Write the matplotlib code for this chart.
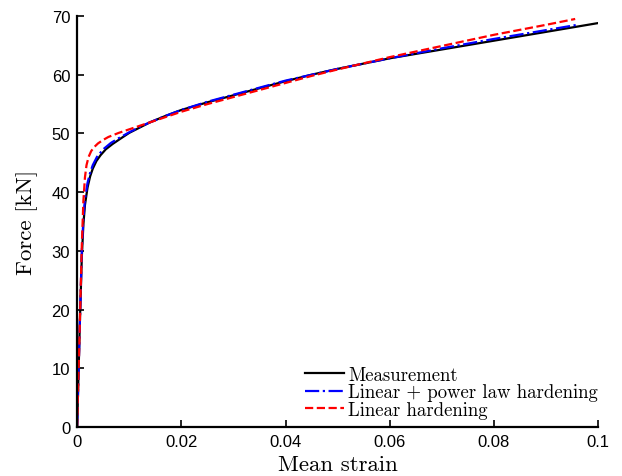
import matplotlib
matplotlib.use("Agg")
import matplotlib.pyplot as plt

# Measurement
meas_x = [0, 0.0005, 0.0009, 0.0012, 0.0015, 0.002, 0.0025, 0.003, 0.0037, 0.0045,
          0.0055, 0.0068, 0.0083, 0.01, 0.012, 0.014, 0.017, 0.02, 0.025, 0.03,
          0.035, 0.04, 0.045, 0.05, 0.055, 0.06, 0.07, 0.08, 0.09, 0.1]
meas_y = [0, 17, 29, 34.5, 37.8, 40.8, 42.7, 44.0, 45.3, 46.3,
          47.3, 48.2, 49.1, 50.1, 51.0, 51.9, 53.0, 54.0, 55.3, 56.5,
          57.7, 58.9, 60.0, 61.0, 61.9, 62.8, 64.3, 65.8, 67.3, 68.8]

# Linear + power law hardening
pow_x = [0, 0.0005, 0.0009, 0.0012, 0.0015, 0.002, 0.0025, 0.003, 0.0038, 0.005,
         0.0065, 0.008, 0.01, 0.012, 0.014, 0.017, 0.02, 0.025, 0.03, 0.035,
         0.04, 0.045, 0.05, 0.06, 0.07, 0.08, 0.09, 0.096]
pow_y = [0, 17, 30, 35.5, 38.8, 41.6, 43.3, 44.6, 46.0, 47.3,
         48.4, 49.2, 50.2, 51.1, 51.9, 53.0, 54.0, 55.4, 56.6, 57.8,
         59.0, 60.0, 61.0, 62.8, 64.5, 66.1, 67.6, 68.5]

# Linear hardening
lin_x = [0, 0.0005, 0.0009, 0.0012, 0.0015, 0.0018, 0.0022, 0.0027, 0.0033, 0.004,
         0.005, 0.006, 0.008, 0.01, 0.012, 0.014, 0.017, 0.02, 0.025, 0.03,
         0.035, 0.04, 0.045, 0.05, 0.06, 0.07, 0.08, 0.09, 0.0956]
lin_y = [0, 17, 31, 38.5, 42.5, 44.6, 46.0, 47.0, 47.7, 48.3,
         48.9, 49.4, 50.1, 50.7, 51.3, 51.9, 52.8, 53.7, 55.0, 56.2,
         57.4, 58.6, 59.8, 60.9, 63.0, 64.9, 66.8, 68.5, 69.5]

xticks = [0, 0.02, 0.04, 0.06, 0.08, 0.1]
xticklabels = ["0", "0.02", "0.04", "0.06", "0.08", "0.1"]
yticks = [0, 10, 20, 30, 40, 50, 60, 70]

fig = plt.figure(figsize=(6.22, 4.77), dpi=100)
ax = fig.add_axes([0.124, 0.1027, 0.8376, 0.8616])

ax.plot(meas_x, meas_y, color="black", lw=1.6, label="Measurement")
ax.plot(pow_x, pow_y, color="blue", lw=1.6, ls="-.", label="Linear + power law hardening")
ax.plot(lin_x, lin_y, color="red", lw=1.6, ls="--", label="Linear hardening")

ax.set_xlim(0, 0.1)
ax.set_ylim(0, 70)
ax.set_xticks(xticks)
ax.set_xticklabels(xticklabels)
ax.set_yticks(yticks)
for lab in ax.get_xticklabels() + ax.get_yticklabels():
    lab.set_family("Liberation Sans")
    lab.set_fontsize(12)
ax.tick_params(direction="in", length=5, width=1.2, pad=5)

ax.spines["top"].set_visible(False)
ax.spines["right"].set_visible(False)
ax.spines["left"].set_linewidth(1.6)
ax.spines["bottom"].set_linewidth(1.6)

ax.set_xlabel("Mean strain", family="cmr10", fontsize=16.5, labelpad=4)
ax.set_ylabel("Force [kN]", family="cmr10", fontsize=16.5, labelpad=10)

ax.legend(loc="lower right", bbox_to_anchor=(1.0, 0.02), frameon=False,
          prop={"family": "cmr10", "size": 13.5}, handlelength=2.1,
          handletextpad=0.2, labelspacing=-0.02, borderaxespad=0.0, borderpad=0.0)

fig.savefig("out.png", dpi=100)
